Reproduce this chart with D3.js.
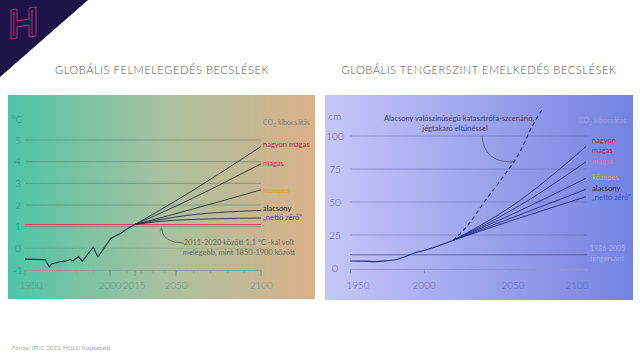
<!DOCTYPE html>
<html><head><meta charset="utf-8">
<script src="https://cdn.jsdelivr.net/npm/d3@7/dist/d3.min.js"></script>
<style>
html,body{margin:0;padding:0;background:#fff;}
svg{display:block;font-family:Lato, "Open Sans", sans-serif;}
</style></head>
<body>
<svg id="c" width="640" height="360"></svg>
<script>
// ---------- DATA ----------
const tempHistYears  = [1950,1961.8,1964.3,1965.7,1970.6,1974.5,1976.5,1978.4,1981.4,1983.7,1990.2,1992.8,2000.6,2006,2011,2015];
const tempHistValues = [-0.5,-0.52,-0.85,-0.72,-0.62,-0.58,-0.52,-0.58,-0.37,-0.6,0.06,-0.4,0.47,0.67,0.94,1.1];
const tempScenarioNames  = ["nagyon magas","magas","közepes","alacsony","„nettó zéró”"];
const tempScenarioYears  = [2015, 2050, 2100];
const tempScenarioValues = [[1.1,2.2,4.7],[1.1,1.95,3.9],[1.1,1.6,2.7],[1.1,1.45,1.75],[1.1,1.3,1.4]];
const tempRefValue = 1.1;
const tempYTicks = [5,4,3,2,1,0,-1];
const tempXLabels = [1950,2000,2015,2050,2100];
const tempXMinor = [1950,1960,1970,1980,1990,2000,2010,2015,2020,2030,2040,2050,2060,2070,2080,2090,2100];

const seaHistYears  = [1950,1960,1967,1975,1982,1987,1994,2001,2009,2017];
const seaHistValues = [5.3,5.2,4.8,5.5,6.6,8.5,11.6,13.6,17,21];
const seaScenarioNames  = [["nagyon","magas"],["magas"],["közepes"],["alacsony"],["„nettó zéró”"]];
const seaScenarioYears  = [2017, 2050, 2100];
const seaScenarioValues = [[21,46,92],[21,43,80.5],[21,40,68],[21,37.5,59.6],[21,35.5,54]];
const seaCatYears  = [2017,2027,2035,2046,2057,2064,2071];
const seaCatValues = [21,35,50,69,89,106,120];
const seaRefValue = 10;
const seaYTicks = [100,75,50,25,0];
const seaXLabels = [1950,2000,2050,2100];

// ---------- DRAW ----------
const svg = d3.select("#c");
const defs = svg.append("defs");
const g1 = defs.append("linearGradient").attr("id","gL").attr("x1","0").attr("x2","1").attr("y1","0").attr("y2","0");
g1.append("stop").attr("offset","0").attr("stop-color","#4cc5a6");
g1.append("stop").attr("offset","0.5").attr("stop-color","#a9c1a0");
g1.append("stop").attr("offset","1").attr("stop-color","#d9b189");
const g2 = defs.append("linearGradient").attr("id","gR").attr("x1","0").attr("x2","1").attr("y1","0").attr("y2","0");
g2.append("stop").attr("offset","0").attr("stop-color","#c6c7f8");
g2.append("stop").attr("offset","1").attr("stop-color","#7482e0");
const mk = defs.append("marker").attr("id","arr").attr("viewBox","0 0 10 10").attr("refX",5).attr("refY",5)
  .attr("markerWidth",5).attr("markerHeight",5).attr("orient","auto-start-reverse");
mk.append("path").attr("d","M1,1 L8,5 L1,9").attr("fill","none").attr("stroke","context-stroke").attr("stroke-width",1.5);

// logo
svg.append("path").attr("d","M0,0 L88,0 L0,77 Z").attr("fill","#1c1447");
svg.append("path").attr("d","M11,10 L17,9 L17,21 L29,19 L29,8 L36,7 L36,36 L29,37 L29,25 L17,27 L17,38 L11,39 Z M14,12 L14,36 M32,10 L32,34")
  .attr("fill","none").attr("stroke","#b8327e").attr("stroke-width",1);

// titles
svg.append("text").attr("x",162).attr("y",74).attr("text-anchor","middle").attr("font-size",11.2).attr("font-weight",300)
  .attr("letter-spacing",0.5).attr("fill","#555").text("GLOBÁLIS FELMELEGEDÉS BECSLÉSEK");
svg.append("text").attr("x",479).attr("y",74).attr("text-anchor","middle").attr("font-size",11.2).attr("font-weight",300)
  .attr("letter-spacing",0.5).attr("fill","#555").text("GLOBÁLIS TENGERSZINT EMELKEDÉS BECSLÉSEK");

// panels
svg.append("rect").attr("x",8).attr("y",95).attr("width",307).attr("height",204).attr("fill","url(#gL)");
svg.append("rect").attr("x",325).attr("y",95).attr("width",308).attr("height",205).attr("fill","url(#gR)");

// ===== LEFT CHART =====
const xL = d3.scaleLinear().domain([1950,2000,2015,2050,2100]).range([25,110,135,176,261]);
const yL = d3.scaleLinear().domain([-1,5]).range([270,140]);
const L = svg.append("g");
L.selectAll(".gl").data(tempYTicks.filter(d=>d>-1)).join("line")
  .attr("x1",25).attr("x2",261).attr("y1",d=>yL(d)).attr("y2",d=>yL(d))
  .attr("stroke","#3f6e5f").attr("stroke-opacity",d=>d===0?0.18:0.45).attr("stroke-width",1);
L.selectAll(".yl").data(tempYTicks).join("text")
  .attr("x",18).attr("y",d=>yL(d)).attr("dy","0.35em").attr("text-anchor","middle").attr("font-weight",300)
  .attr("font-size",10).attr("fill","#3f8f80").text(d=>d);
L.append("text").attr("x",17).attr("y",123).attr("text-anchor","middle").attr("font-size",10).attr("font-weight",300).attr("fill","#3f8f80").text("°C");
const axL = L.append("g").attr("transform",`translate(0,${yL(-1)})`)
  .call(d3.axisBottom(xL).tickValues(tempXMinor).tickSize(3).tickFormat(""));
axL.select(".domain").attr("stroke","#8aa69a");
axL.selectAll(".tick line").attr("stroke","#8aa69a");
L.selectAll(".mj").data(tempXLabels).join("line")
  .attr("x1",d=>xL(d)).attr("x2",d=>xL(d)).attr("y1",yL(-1)).attr("y2",yL(-1)+6).attr("stroke","#7a9a8e");
L.selectAll(".xl").data(tempXLabels).join("text")
  .attr("x",(d,i)=>xL(d)+[6,0,-1,0,0][i]).attr("y",289).attr("text-anchor","middle").attr("font-weight",300)
  .attr("font-size",10).attr("fill","#5e9d92").text(d=>d);
L.append("line").attr("x1",25).attr("x2",261).attr("y1",yL(tempRefValue)).attr("y2",yL(tempRefValue))
  .attr("stroke","#d0455f").attr("stroke-width",1.2);
const lineL = d3.line().curve(d3.curveMonotoneX);
tempScenarioValues.forEach(vals=>{
  L.append("path").attr("d",lineL(vals.map((v,i)=>[xL(tempScenarioYears[i]),yL(v)])))
   .attr("fill","none").attr("stroke","#2b2d3e").attr("stroke-width",0.9);
});
L.append("path").attr("d",d3.line()(tempHistYears.map((y,i)=>[xL(y),yL(tempHistValues[i])])))
  .attr("fill","none").attr("stroke","#1f3440").attr("stroke-width",1.1);
L.append("text").attr("x",263).attr("y",123).attr("dy","0.35em").attr("font-size",7).attr("fill","#8a8070").html("CO<tspan font-size='5' dy='1.5'>2</tspan><tspan dy='-1.5'> kibocsátás</tspan>");
const tColors = ["#c81e3c","#d2265e","#d8a236","#222222","#4b3fc2"];
const tLabY = [144,163,190,208,217];
tempScenarioNames.forEach((n,i)=>{
  L.append("text").attr("x",263).attr("y",tLabY[i]).attr("dy","0.35em").attr("font-size",7.5)
   .attr("fill",tColors[i]).text(n);
});
L.append("path").attr("d","M184,243 Q163,243 161.5,229").attr("fill","none").attr("stroke","#5c6a60")
  .attr("stroke-width",0.9).attr("marker-end","url(#arr)");
L.append("text").attr("x",239).attr("y",245).attr("text-anchor","middle").attr("font-size",7.5).attr("fill","#6b6f5e").text("2011-2020 között 1,1 °C -kal volt");
L.append("text").attr("x",239).attr("y",255).attr("text-anchor","middle").attr("font-size",7.5).attr("fill","#6b6f5e").text("melegebb, mint 1850-1900 között");

// ===== RIGHT CHART =====
const xR = d3.scaleLinear().domain([1950,2000,2050,2100]).range([350,424,510,586]);
const yR = d3.scaleLinear().domain([0,100]).range([268,136]);
const R = svg.append("g");
R.selectAll(".gr").data(seaYTicks.filter(d=>d>0)).join("line")
  .attr("x1",350).attr("x2",587).attr("y1",d=>yR(d)).attr("y2",d=>yR(d))
  .attr("stroke","#5a5ea8").attr("stroke-opacity",0.45);
R.append("line").attr("x1",350).attr("x2",587).attr("y1",yR(seaRefValue)).attr("y2",yR(seaRefValue))
  .attr("stroke","#4a4e92").attr("stroke-opacity",0.75);
R.selectAll(".yr").data(seaYTicks).join("text")
  .attr("x",335).attr("y",d=>yR(d)).attr("dy","0.35em").attr("text-anchor","middle").attr("font-weight",300)
  .attr("font-size",10).attr("fill","#4b5694").text(d=>d);
R.append("text").attr("x",335).attr("y",120).attr("text-anchor","middle").attr("font-size",10).attr("font-weight",300).attr("fill","#4b5694").text("cm");
const axR = R.append("g").attr("transform",`translate(0,${yR(0)+1})`)
  .call(d3.axisBottom(xR).tickValues(seaXLabels).tickSize(4).tickFormat(""));
axR.select(".domain").attr("stroke","#8f95d6");
axR.selectAll(".tick line").attr("stroke","#8f95d6");
R.selectAll(".xr").data(seaXLabels).join("text")
  .attr("x",(d,i)=>xR(d)+[8,0,3,-9][i]).attr("y",289).attr("text-anchor","middle").attr("font-weight",300)
  .attr("font-size",10).attr("fill","#5f6cb8").text(d=>d);
const lineR = d3.line().curve(d3.curveMonotoneX);
seaScenarioValues.forEach(vals=>{
  R.append("path").attr("d",lineR(vals.map((v,i)=>[xR(seaScenarioYears[i]),yR(v)])))
   .attr("fill","none").attr("stroke","#1f2a80").attr("stroke-width",0.9);
});
R.append("path").attr("d",d3.line().curve(d3.curveMonotoneX)(seaCatYears.map((y,i)=>[xR(y),yR(seaCatValues[i])])))
  .attr("fill","none").attr("stroke","#1f2a80").attr("stroke-width",1.1).attr("stroke-dasharray","4,3");
R.append("path").attr("d",d3.line().curve(d3.curveMonotoneX)(seaHistYears.map((y,i)=>[xR(y),yR(seaHistValues[i])])))
  .attr("fill","none").attr("stroke","#1f2a80").attr("stroke-width",1.1);
R.append("text").attr("x",579).attr("y",121).attr("dy","0.35em").attr("font-size",7).attr("fill","#9aa0e0").html("CO<tspan font-size='5' dy='1.5'>2</tspan><tspan dy='-1.5'> kibocsátás</tspan>");
const sColors = ["#c2185a","#e070b4","#e4a640","#1b1c46","#3b56c8"];
const sLabY = [[140,150],[161],[177],[188],[197]];
seaScenarioNames.forEach((n,i)=>{
  n.forEach((t,j)=>{
    R.append("text").attr("x",592).attr("y",sLabY[i][j]).attr("dy","0.35em").attr("font-size",7.5)
     .attr("fill",sColors[i]).text(t);
  });
});
R.append("text").attr("x",590).attr("y",251).attr("font-size",7).attr("fill","#a6acea").text("1986-2005");
R.append("text").attr("x",590).attr("y",261).attr("font-size",7).attr("fill","#a6acea").text("tengerszint");
R.append("text").attr("x",459).attr("y",121).attr("text-anchor","middle").attr("font-size",7.5).attr("fill","#3e3f6e").text("Alacsony valószínűségű katasztrófa-szcenárió,");
R.append("text").attr("x",455).attr("y",131).attr("text-anchor","middle").attr("font-size",7.5).attr("fill","#3e3f6e").text("jégtakaró eltűnéssel");
R.append("path").attr("d","M482,136 Q484,162 512,162").attr("fill","none").attr("stroke","#565a8e")
  .attr("stroke-width",0.9).attr("marker-end","url(#arr)");

svg.append("text").attr("x",12).attr("y",350).attr("font-size",6).attr("fill","#aaaaaa").text("Forrás: IPCC 2023, HOLD Alapkezelő");
</script>
</body></html>
